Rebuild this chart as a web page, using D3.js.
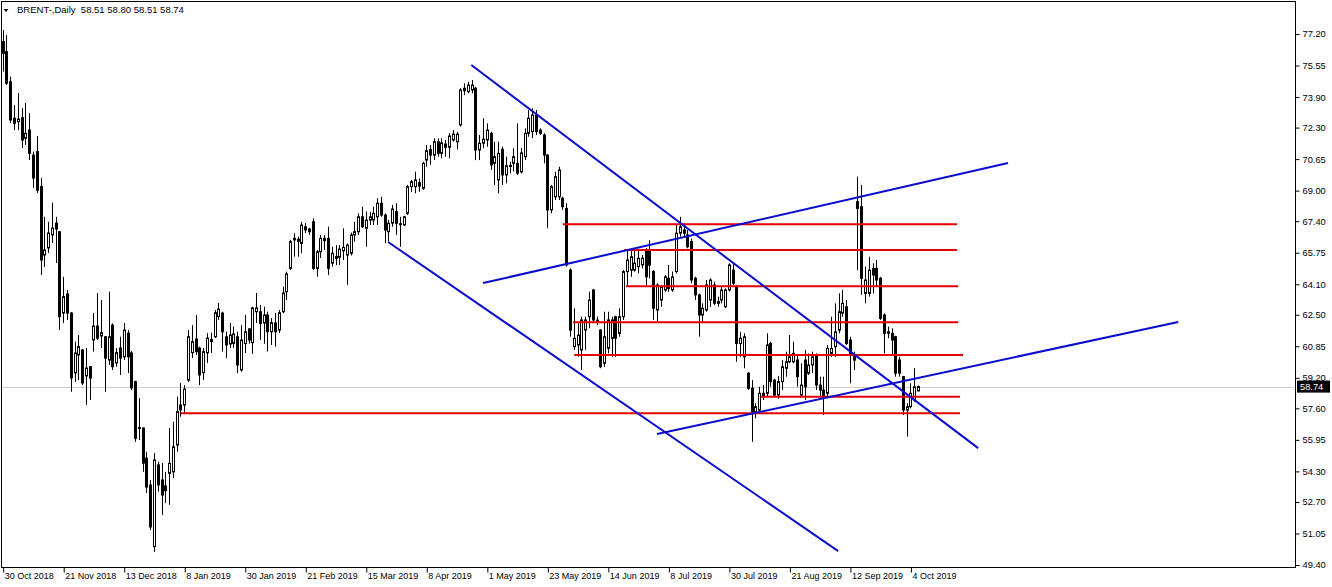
<!DOCTYPE html>
<html>
<head>
<meta charset="utf-8">
<script src="https://cdn.jsdelivr.net/npm/d3@7/dist/d3.min.js"></script>
<style>
  html, body { margin: 0; padding: 0; background: #ffffff; }
  svg { display: block; }
  text { font-family: "Liberation Sans", Arial, sans-serif; fill: #000; }
</style>
</head>
<body>
<svg id="chart" width="1332" height="587"></svg>
<script>
// ---------------- DATA ----------------
const opens = [76.80,76.27,74.70,72.79,72.61,72.82,71.74,72.17,70.86,71.04,
69.21,65.63,66.00,66.68,67.30,66.85,62.59,63.59,62.59,59.45,
60.40,60.66,59.30,59.78,61.18,61.91,61.39,61.35,60.13,61.96,
59.98,60.76,60.30,61.54,60.50,59.00,56.60,56.57,54.99,53.59,
50.36,54.64,53.85,53.54,54.20,54.28,55.68,57.78,57.78,59.08,
60.52,61.23,60.76,59.47,60.50,61.10,61.35,62.40,62.59,61.35,
60.97,61.00,61.35,59.61,60.99,61.76,61.04,62.66,62.66,62.07,
62.49,61.61,62.07,61.70,62.66,63.71,64.93,66.50,66.35,66.24,
67.11,66.99,67.37,64.93,65.80,66.50,66.50,65.20,65.45,65.51,
65.85,65.63,65.72,66.68,66.85,67.63,67.03,67.46,67.46,67.63,
68.34,67.72,66.85,67.30,67.90,67.27,67.20,67.81,69.21,69.21,
69.42,69.12,70.60,71.16,70.86,71.56,70.95,71.44,71.27,71.65,
71.56,72.44,74.36,74.18,74.27,74.36,71.13,71.48,71.65,72.00,
70.43,69.56,71.16,69.82,70.28,70.43,70.43,69.98,70.78,72.00,
72.09,72.96,72.17,71.91,70.86,67.99,68.68,68.68,68.60,68.07,
64.84,60.83,60.92,60.66,61.70,62.40,63.80,62.22,61.70,59.96,
60.74,61.27,62.40,61.53,62.40,64.76,64.84,64.84,65.02,65.11,
65.89,65.89,64.76,62.75,63.27,63.80,64.41,63.80,64.76,66.77,
66.94,66.68,66.33,64.41,63.54,62.49,62.75,63.27,64.06,63.19,
63.27,62.92,63.80,64.84,63.97,60.99,60.30,59.44,58.65,57.43,
57.51,58.39,58.39,61.00,59.08,58.30,59.00,59.70,60.04,60.04,
60.13,58.30,60.13,59.44,59.87,60.40,58.82,58.56,58.39,60.48,
60.83,61.70,62.58,62.92,61.18,60.30,68.42,68.16,63.62,63.62,
64.93,64.93,64.41,62.49,61.53,61.53,61.35,60.13,59.26,57.51,
57.69,58.04,58.51];
const highs = [77.41,77.15,74.96,73.48,74.11,73.33,73.59,73.06,71.04,71.86,
69.66,67.63,67.37,68.37,67.63,66.88,64.49,63.80,62.65,61.09,
61.44,60.70,60.76,59.82,62.59,63.64,63.27,61.39,63.71,62.05,
60.76,61.35,62.07,61.70,60.60,59.05,58.14,56.60,55.33,53.85,
55.26,54.81,54.74,54.28,56.57,56.90,58.21,58.93,58.82,61.70,
61.96,62.49,60.83,60.76,61.54,61.56,62.75,63.12,62.66,61.61,
62.07,61.88,61.61,61.96,62.49,61.81,62.92,63.64,63.01,62.92,
62.66,62.33,62.59,62.75,63.97,64.76,66.42,66.77,66.59,67.37,
67.30,67.05,67.55,65.89,66.68,66.68,67.11,66.06,66.15,66.15,
67.03,66.24,66.80,67.37,67.81,68.16,67.90,67.90,68.16,68.60,
68.68,67.81,67.46,68.25,68.34,67.63,67.68,69.30,69.56,69.99,
69.64,70.51,71.39,71.39,71.74,71.74,71.74,71.65,72.00,72.17,
72.08,74.36,74.62,74.70,74.79,74.44,71.91,72.79,72.52,72.08,
71.56,71.56,71.30,70.78,70.51,71.22,72.52,71.23,72.26,73.22,
73.31,73.22,72.26,72.00,70.90,69.30,69.99,70.25,68.68,68.34,
64.93,62.84,62.05,62.40,62.40,63.71,63.85,62.40,61.75,62.66,
62.66,62.40,62.45,62.84,64.84,65.89,65.89,65.89,65.89,65.63,
66.00,66.40,64.84,64.15,64.06,64.58,65.11,64.76,67.20,67.63,
67.29,66.94,66.50,64.49,63.60,63.10,64.32,64.41,64.23,63.45,
63.97,63.88,65.20,65.20,64.06,61.61,61.53,59.50,59.08,57.87,
58.73,58.82,61.53,61.09,59.15,59.30,60.13,60.57,61.44,61.09,
60.40,59.96,60.66,60.48,60.57,60.48,59.26,59.26,60.92,62.40,
63.10,63.62,63.80,63.27,61.35,60.57,69.73,69.30,65.02,65.54,
65.20,65.37,64.49,62.58,61.88,61.79,61.40,60.30,59.30,57.87,
58.91,59.70,58.80];
const lows = [75.23,74.53,72.54,72.17,72.17,71.23,71.39,70.60,69.14,68.88,
64.58,65.00,65.73,66.26,65.21,61.70,62.07,62.23,58.47,58.99,
59.08,58.82,57.78,58.04,60.57,61.18,60.76,58.47,59.87,59.61,
59.78,59.35,60.13,59.45,58.56,55.85,55.94,54.28,53.17,51.23,
50.09,53.24,52.02,52.64,52.55,53.95,55.33,57.16,57.36,58.99,
60.23,60.40,58.82,59.08,59.98,60.50,61.28,62.23,60.57,60.23,
60.76,60.76,59.45,59.52,60.50,60.99,60.45,62.07,61.18,60.99,
60.57,60.92,60.83,61.54,62.59,63.27,64.84,65.54,65.54,65.73,
66.78,66.68,64.84,64.49,65.47,65.89,64.58,65.02,65.10,65.10,
65.37,64.06,65.60,66.33,66.68,67.03,66.06,67.20,67.20,67.20,
67.63,66.24,66.33,67.11,66.68,66.06,67.15,67.72,68.94,68.86,
68.94,69.03,70.25,70.35,70.60,70.78,70.69,70.78,70.69,71.56,
71.16,72.35,74.00,74.10,74.10,70.60,70.60,71.22,71.30,70.08,
69.30,68.86,69.30,69.38,69.91,70.00,69.82,69.90,70.60,71.82,
71.74,71.91,71.91,70.43,67.03,67.81,68.51,68.51,67.99,65.02,
61.35,60.66,60.30,59.61,60.66,61.79,62.14,61.96,59.70,59.78,
60.48,60.30,60.30,61.35,62.23,63.97,64.49,64.76,64.67,64.93,
64.06,64.40,62.23,62.14,62.92,63.71,63.70,63.70,64.67,66.59,
66.59,65.98,64.15,63.27,61.35,62.14,62.66,62.92,63.01,62.92,
63.10,62.84,63.71,64.06,60.04,60.30,59.70,58.56,55.85,57.08,
57.43,58.04,58.21,58.73,58.21,58.10,58.56,59.26,59.96,59.96,
58.73,58.21,58.04,59.35,59.44,58.56,58.12,57.25,58.21,60.30,
60.30,61.53,62.40,60.92,58.91,59.61,64.84,63.54,63.10,63.45,
63.62,63.97,62.23,60.48,61.27,60.40,59.26,59.26,57.25,56.12,
57.60,57.95,58.51];
const closes = [76.19,74.62,72.70,72.52,72.75,71.65,72.00,70.95,69.66,69.03,
65.37,65.89,66.78,67.04,66.99,62.40,63.45,62.59,59.19,60.50,
60.83,58.93,59.71,59.19,61.91,61.28,61.56,60.23,61.35,59.78,
60.52,60.23,61.70,60.30,58.67,56.03,56.55,54.73,53.48,51.39,
54.90,53.59,53.06,53.29,54.72,55.59,57.43,57.52,58.61,61.35,
61.09,60.57,59.35,60.57,61.28,61.20,62.61,62.80,61.61,60.92,
61.44,61.50,59.87,61.18,61.61,61.18,62.86,62.86,62.05,62.49,
61.61,62.09,61.61,62.61,63.64,64.64,66.33,66.42,66.45,67.20,
66.94,66.85,64.93,65.80,66.50,66.38,64.93,65.72,65.55,65.94,
66.03,66.15,66.68,66.85,67.63,67.11,67.46,67.63,67.81,68.34,
67.72,66.94,67.29,68.04,67.29,67.22,67.63,69.21,69.47,69.56,
69.24,70.43,71.09,70.86,71.56,70.95,71.50,71.27,71.86,71.96,
71.96,74.27,74.23,74.53,74.53,71.13,71.48,71.69,72.17,70.35,
70.78,70.95,69.82,70.30,70.32,70.78,69.91,70.97,72.00,72.79,
72.96,72.09,72.00,70.86,67.99,69.21,69.73,70.08,68.16,65.11,
61.70,61.27,61.44,62.23,62.23,63.27,62.23,62.18,59.78,61.35,
62.23,62.23,61.27,62.40,64.76,65.37,65.54,65.20,65.46,65.46,
64.49,65.10,62.84,64.06,63.97,64.49,63.88,64.49,66.77,67.11,
66.77,66.06,64.32,63.54,62.49,62.84,64.06,64.32,63.10,63.10,
63.80,63.80,65.11,64.15,61.00,61.27,61.35,58.65,57.43,57.69,
58.39,58.21,60.92,59.00,58.30,59.00,59.78,60.04,60.30,60.48,
59.26,58.82,58.73,59.87,60.30,58.82,58.56,58.21,60.74,60.74,
61.61,62.66,63.10,61.00,60.48,60.13,68.07,64.41,64.32,64.84,
64.58,64.32,62.31,61.53,61.61,61.18,59.44,59.44,57.51,57.69,
58.39,58.73,58.74];

const priceTicks = [77.20,75.55,73.90,72.30,70.65,69.00,67.40,65.75,64.10,62.50,
60.85,59.20,57.60,55.95,54.30,52.70,51.05,49.40];
const dateTickIndex = [0,16,32,48,64,80,96,112,128,144,160,176,192,208,224,240];
const dateTickLabels = ["30 Oct 2018","21 Nov 2018","13 Dec 2018","8 Jan 2019","30 Jan 2019",
"21 Feb 2019","15 Mar 2019","8 Apr 2019","1 May 2019","23 May 2019","14 Jun 2019",
"8 Jul 2019","30 Jul 2019","21 Aug 2019","12 Sep 2019","4 Oct 2019"];

// trend lines: [barIndex1, price1, barIndex2, price2]
const blueTrendLines = [
  [123.9, 75.58, 257.9, 55.52],
  [101.9, 66.31, 220.9, 50.13],
  [127.0, 64.16, 265.8, 70.45],
  [173.0, 56.26, 310.8, 62.12]
];
// horizontal levels
const redLevelPrices = [67.24, 65.89, 64.00, 62.11, 60.40, 58.21, 57.34];
const redLevelStart  = [148.1, 164.3, 164.8, 150.8, 151.1, 200.5, 47.1];
const redLevelEnd    = [252.3, 252.3, 252.6, 252.6, 253.9, 253.1, 253.1];

const lastPrice = 58.74;
const titleText = "BRENT-,Daily  58.51 58.80 58.51 58.74";

// ---------------- DRAW ----------------
const svg = d3.select("#chart");
const W = 1332, H = 587;
const plot = {left: 1, top: 1, right: 1295, bottom: 567};

const x = d3.scaleLinear().domain([0, opens.length - 1]).range([2.7, 918]);
const y = d3.scaleLinear().domain([49.40, 77.20]).range([565, 34]);

svg.append("rect").attr("width", W).attr("height", H).attr("fill", "#fff");

svg.append("defs").append("clipPath").attr("id", "plotclip")
  .append("rect").attr("x", plot.left + 0.5).attr("y", plot.top + 0.5)
  .attr("width", plot.right - plot.left - 1).attr("height", plot.bottom - plot.top - 1);

const g = svg.append("g").attr("clip-path", "url(#plotclip)");

// current price line
g.append("line")
  .attr("x1", plot.left).attr("x2", plot.right)
  .attr("y1", Math.round(y(lastPrice)) + 0.5).attr("y2", Math.round(y(lastPrice)) + 0.5)
  .attr("stroke", "#cccccc").attr("stroke-width", 1);

// candles
const idx = d3.range(opens.length);
const cg = g.append("g");
idx.forEach(i => {
  const cx = Math.round(x(i));
  const o = opens[i], c = closes[i], h = highs[i], l = lows[i];
  cg.append("line")
    .attr("x1", cx + 0.5).attr("x2", cx + 0.5)
    .attr("y1", y(h)).attr("y2", y(l))
    .attr("stroke", "#000").attr("stroke-width", 1);
  const top = y(Math.max(o, c)), bot = y(Math.min(o, c));
  if (c >= o) {
    cg.append("rect")
      .attr("x", cx - 0.5).attr("y", top)
      .attr("width", 2).attr("height", Math.max(bot - top, 1))
      .attr("fill", "#fff").attr("stroke", "#000").attr("stroke-width", 1);
  } else {
    cg.append("rect")
      .attr("x", cx - 1).attr("y", top - 0.5)
      .attr("width", 3).attr("height", Math.max(bot - top + 1, 1.5))
      .attr("fill", "#000");
  }
});

// red levels
redLevelPrices.forEach((p, k) => {
  g.append("line")
    .attr("x1", x(redLevelStart[k])).attr("x2", x(redLevelEnd[k]))
    .attr("y1", y(p)).attr("y2", y(p))
    .attr("stroke", "#e60000").attr("stroke-width", 2);
});

// blue trend lines
blueTrendLines.forEach(t => {
  g.append("line")
    .attr("x1", x(t[0])).attr("y1", y(t[1]))
    .attr("x2", x(t[2])).attr("y2", y(t[3]))
    .attr("stroke", "#0a0ad0").attr("stroke-width", 2);
});

// frame
svg.append("rect")
  .attr("x", plot.left + 0.5).attr("y", plot.top + 0.5)
  .attr("width", plot.right - plot.left).attr("height", plot.bottom - plot.top)
  .attr("fill", "none").attr("stroke", "#000").attr("stroke-width", 1);

// right axis
const yAxis = d3.axisRight(y).tickValues(priceTicks).tickFormat(d3.format(".2f"))
  .tickSize(4).tickPadding(3);
const ya = svg.append("g").attr("transform", `translate(${plot.right + 0.5},0)`).call(yAxis);
ya.select(".domain").remove();
ya.selectAll("line").attr("stroke", "#000");
ya.selectAll("text").attr("font-family", "Liberation Sans, Arial, sans-serif")
  .attr("font-size", 9.3).attr("fill", "#000");

// current price box
const ly = y(lastPrice);
svg.append("rect").attr("x", plot.right + 2).attr("y", ly - 6)
  .attr("width", 33).attr("height", 12).attr("fill", "#000");
svg.append("text").attr("x", plot.right + 5).attr("y", ly + 3.5)
  .attr("font-size", 9.3).style("fill", "#fff").text(lastPrice.toFixed(2));

// bottom axis
const xAxis = d3.axisBottom(x).tickValues(dateTickIndex)
  .tickFormat((d, k) => dateTickLabels[k]).tickSize(5).tickPadding(2);
const xa = svg.append("g").attr("transform", `translate(0.5,${plot.bottom + 0.5})`).call(xAxis);
xa.select(".domain").remove();
xa.selectAll("line").attr("stroke", "#000");
xa.selectAll("text").attr("font-family", "Liberation Sans, Arial, sans-serif")
  .attr("font-size", 9).attr("fill", "#000")
  .attr("text-anchor", "start").attr("dx", 1).attr("dy", "0.55em");

// title
svg.append("path").attr("d", "M3.5,9 L8.5,9 L6,12 Z").attr("fill", "#000");
svg.append("text").attr("x", 17).attr("y", 13).attr("font-size", 9.5)
  .style("white-space", "pre").text(titleText);
</script>
</body>
</html>
